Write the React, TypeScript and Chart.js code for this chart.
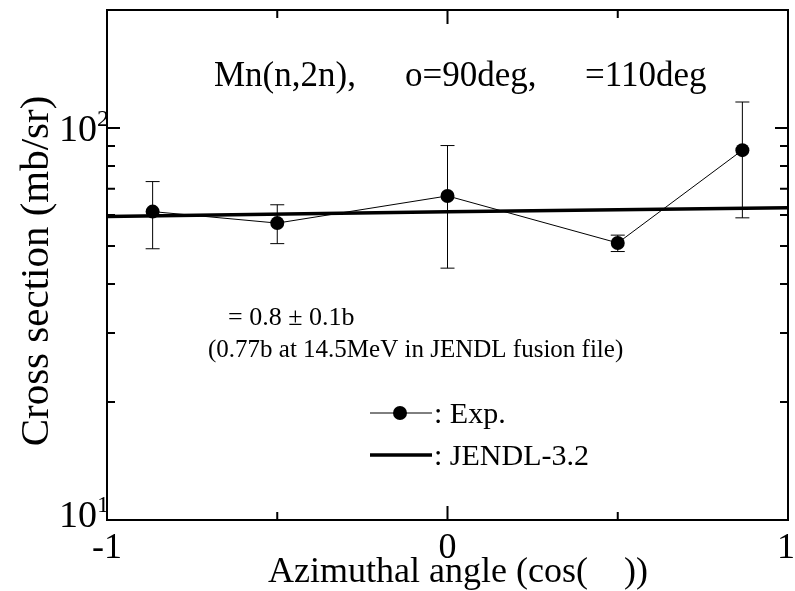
import React, { useEffect, useRef } from "react";
import { Chart, registerables } from "chart.js";

Chart.register(...registerables);

// ---- data ----
const xValues = [-0.866, -0.5, 0, 0.5, 0.866];
const expValues = [61.2, 57.2, 67.1, 50.9, 87.8];
const errLow = [49.2, 50.7, 43.9, 48.4, 59.0];
const errHigh = [73.0, 63.7, 90.2, 53.3, 116.5];
const jendlX = [-1, 0, 1];
const jendlValues = [59.5, 61.1, 62.6];

const yMajorTicks = [10, 100];
const yMajorExponents = ["1", "2"];
const yMinorTicks = [20, 30, 40, 50, 60, 70, 80, 90];
const xMajorTicks = [-1, 0, 1];
const xTickLabels = ["-1", "0", "1"];
const xMinorTicks = [-0.5, 0.5];

const titleParts = ["Mn(n,2n),", "o=90deg,", "=110deg"];
const annotationLines = ["= 0.8 \u00b1 0.1b", "(0.77b at 14.5MeV in JENDL fusion file)"];
const legendLabels = [": Exp.", ": JENDL-3.2"];
const xTitle = "Azimuthal angle (cos(    ))";
const yTitle = "Cross section (mb/sr)";

const SERIF = '"Liberation Serif", "Times New Roman", serif';

const decorPlugin = {
  id: "decor",
  beforeDatasetsDraw(chart: any) {
    const { ctx, scales } = chart;
    const xs = scales.x;
    const ys = scales.y;
    ctx.save();
    ctx.strokeStyle = "#000";
    ctx.lineWidth = 1;
    for (let i = 0; i < xValues.length; i++) {
      const px = xs.getPixelForValue(xValues[i]);
      const yl = ys.getPixelForValue(errLow[i]);
      const yh = ys.getPixelForValue(errHigh[i]);
      ctx.beginPath();
      ctx.moveTo(px, yl);
      ctx.lineTo(px, yh);
      ctx.moveTo(px - 7, yl);
      ctx.lineTo(px + 7, yl);
      ctx.moveTo(px - 7, yh);
      ctx.lineTo(px + 7, yh);
      ctx.stroke();
    }
    ctx.restore();
  },
  afterDatasetsDraw(chart: any) {
    const { ctx, scales, chartArea } = chart;
    const xs = scales.x;
    const ys = scales.y;
    const { left, right, top, bottom } = chartArea;
    ctx.save();
    ctx.strokeStyle = "#000";
    ctx.fillStyle = "#000";
    // frame
    ctx.lineWidth = 2;
    ctx.strokeRect(left, top, right - left, bottom - top);
    // ticks
    ctx.beginPath();
    yMajorTicks.forEach((v) => {
      const y = ys.getPixelForValue(v);
      ctx.moveTo(left, y);
      ctx.lineTo(left + 13, y);
      ctx.moveTo(right, y);
      ctx.lineTo(right - 13, y);
    });
    yMinorTicks.forEach((v) => {
      const y = ys.getPixelForValue(v);
      ctx.moveTo(left, y);
      ctx.lineTo(left + 8, y);
      ctx.moveTo(right, y);
      ctx.lineTo(right - 8, y);
    });
    xMajorTicks.forEach((v) => {
      const x = xs.getPixelForValue(v);
      ctx.moveTo(x, bottom);
      ctx.lineTo(x, bottom - 14);
      ctx.moveTo(x, top);
      ctx.lineTo(x, top + 14);
    });
    xMinorTicks.forEach((v) => {
      const x = xs.getPixelForValue(v);
      ctx.moveTo(x, bottom);
      ctx.lineTo(x, bottom - 8);
      ctx.moveTo(x, top);
      ctx.lineTo(x, top + 8);
    });
    ctx.stroke();

    // y tick labels
    ctx.textBaseline = "alphabetic";
    yMajorTicks.forEach((v, i) => {
      const y = ys.getPixelForValue(v);
      ctx.font = `38px ${SERIF}`;
      ctx.textAlign = "right";
      const base = Math.min(y + 13, bottom + 7);
      ctx.fillText("10", left - 10, base);
      ctx.font = `24px ${SERIF}`;
      ctx.textAlign = "left";
      ctx.fillText(yMajorExponents[i], left - 10, base - 15);
    });
    // x tick labels
    ctx.font = `36px ${SERIF}`;
    ctx.textAlign = "center";
    xMajorTicks.forEach((v, i) => {
      const x = xs.getPixelForValue(v);
      ctx.fillText(xTickLabels[i], Math.min(x, 786), bottom + 38);
    });
    // axis titles
    ctx.font = `36px ${SERIF}`;
    ctx.textAlign = "left";
    ctx.fillText(xTitle, 268, 582);
    ctx.save();
    ctx.translate(48, 271);
    ctx.rotate(-Math.PI / 2);
    ctx.textAlign = "center";
    ctx.font = `41px ${SERIF}`;
    ctx.fillText(yTitle, 0, 0);
    ctx.restore();

    // title
    ctx.font = `35px ${SERIF}`;
    ctx.textAlign = "left";
    ctx.fillText(titleParts[0], 214, 86);
    ctx.fillText(titleParts[1], 405, 86);
    ctx.fillText(titleParts[2], 585, 86);

    // annotation
    ctx.font = `26px ${SERIF}`;
    ctx.fillText(annotationLines[0], 228, 325);
    ctx.font = `25px ${SERIF}`;
    ctx.fillText(annotationLines[1], 208, 357);

    // legend
    ctx.lineWidth = 1;
    ctx.beginPath();
    ctx.moveTo(370, 413);
    ctx.lineTo(432, 413);
    ctx.stroke();
    ctx.beginPath();
    ctx.arc(400, 413, 7, 0, Math.PI * 2);
    ctx.fill();
    ctx.lineWidth = 3.5;
    ctx.beginPath();
    ctx.moveTo(370, 455);
    ctx.lineTo(432, 455);
    ctx.stroke();
    ctx.font = `30px ${SERIF}`;
    ctx.fillText(legendLabels[0], 434, 423);
    ctx.fillText(legendLabels[1], 434, 465);
    ctx.restore();
  },
};

export default function App() {
  const canvasRef = useRef<HTMLCanvasElement | null>(null);
  useEffect(() => {
    const canvas = canvasRef.current;
    if (!canvas) return;
    const chart = new Chart(canvas, {
      type: "line",
      data: {
        datasets: [
          {
            label: "JENDL-3.2",
            data: jendlX.map((x, i) => ({ x, y: jendlValues[i] })),
            borderColor: "#000",
            borderWidth: 3.5,
            pointRadius: 0,
            fill: false,
            tension: 0,
          },
          {
            label: "Exp.",
            data: xValues.map((x, i) => ({ x, y: expValues[i] })),
            borderColor: "#000",
            borderWidth: 1,
            pointRadius: 7,
            pointBackgroundColor: "#000",
            pointBorderColor: "#000",
            pointBorderWidth: 0,
            fill: false,
            tension: 0,
          },
        ],
      },
      options: {
        animation: false,
        responsive: false,
        maintainAspectRatio: false,
        layout: { padding: { left: 107, top: 10, right: 5, bottom: 71 } },
        scales: {
          x: { type: "linear", min: -1, max: 1, display: false },
          y: { type: "logarithmic", min: 10, max: 200, display: false },
        },
        plugins: { legend: { display: false }, tooltip: { enabled: false } },
      },
      plugins: [decorPlugin],
    });
    return () => chart.destroy();
  }, []);
  return (
    <div style={{ position: "absolute", left: 0, top: 0, width: 795, height: 591, background: "#fff" }}>
      <canvas ref={canvasRef} width={795} height={591} />
    </div>
  );
}
